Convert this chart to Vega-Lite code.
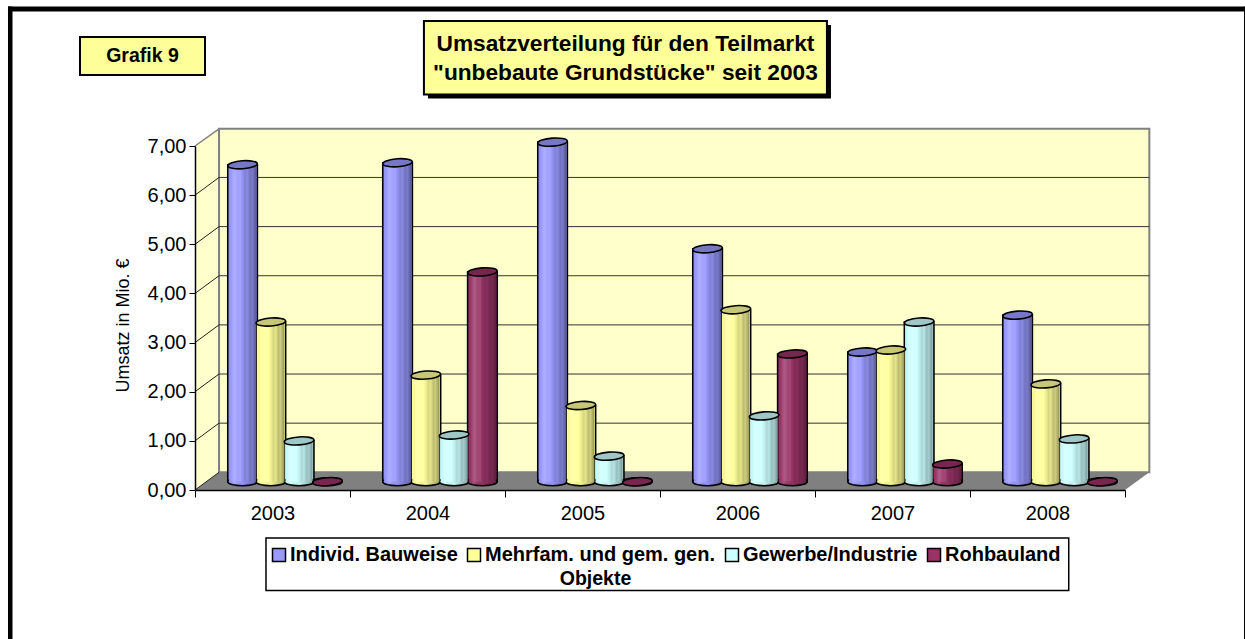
{
"$schema":"https://vega.github.io/schema/vega-lite/v6.json",
"width":930,"height":344,"autosize":"none",
"padding":{"left":195,"top":146,"right":120,"bottom":149},
"background":"white",
"config":{"view":{"stroke":null},"font":"Liberation Sans"},
"datasets":{
"rows":[
{"Jahr":"2003","Objekte":"Individ. Bauweise","Umsatz":6.45},
{"Jahr":"2003","Objekte":"Mehrfam. und gem. gen.","Umsatz":3.25},
{"Jahr":"2003","Objekte":"Gewerbe/Industrie","Umsatz":0.83},
{"Jahr":"2003","Objekte":"Rohbauland","Umsatz":0},
{"Jahr":"2004","Objekte":"Individ. Bauweise","Umsatz":6.49},
{"Jahr":"2004","Objekte":"Mehrfam. und gem. gen.","Umsatz":2.17},
{"Jahr":"2004","Objekte":"Gewerbe/Industrie","Umsatz":0.95},
{"Jahr":"2004","Objekte":"Rohbauland","Umsatz":4.27},
{"Jahr":"2005","Objekte":"Individ. Bauweise","Umsatz":6.91},
{"Jahr":"2005","Objekte":"Mehrfam. und gem. gen.","Umsatz":1.55},
{"Jahr":"2005","Objekte":"Gewerbe/Industrie","Umsatz":0.52},
{"Jahr":"2005","Objekte":"Rohbauland","Umsatz":0},
{"Jahr":"2006","Objekte":"Individ. Bauweise","Umsatz":4.74},
{"Jahr":"2006","Objekte":"Mehrfam. und gem. gen.","Umsatz":3.5},
{"Jahr":"2006","Objekte":"Gewerbe/Industrie","Umsatz":1.34},
{"Jahr":"2006","Objekte":"Rohbauland","Umsatz":2.6},
{"Jahr":"2007","Objekte":"Individ. Bauweise","Umsatz":2.64},
{"Jahr":"2007","Objekte":"Mehrfam. und gem. gen.","Umsatz":2.68},
{"Jahr":"2007","Objekte":"Gewerbe/Industrie","Umsatz":3.25},
{"Jahr":"2007","Objekte":"Rohbauland","Umsatz":0.36},
{"Jahr":"2008","Objekte":"Individ. Bauweise","Umsatz":3.39},
{"Jahr":"2008","Objekte":"Mehrfam. und gem. gen.","Umsatz":1.99},
{"Jahr":"2008","Objekte":"Gewerbe/Industrie","Umsatz":0.87},
{"Jahr":"2008","Objekte":"Rohbauland","Umsatz":0}
],
"levels":[{"level":0,"wall":0.36},{"level":1,"wall":1.36},{"level":2,"wall":2.36},{"level":3,"wall":3.36},{"level":4,"wall":4.36},{"level":5,"wall":5.36},{"level":6,"wall":6.36},{"level":7,"wall":7.35}]
},
"resolve":{"scale":{"x":"independent","y":"independent"},"axis":{"x":"independent","y":"independent"}},
"layer":[
{
"data":{"values":[{}]},
"encoding":{
"x":{"type":"quantitative","scale":{"domain":[0,6],"nice":false,"zero":false},"axis":null},
"y":{"type":"quantitative","scale":{"domain":[0,7],"nice":false,"zero":false},"axis":null}
},
"layer":[
{"mark":{"type":"rect","fill":"black"},"encoding":{"x":{"datum":-1.2065,"type":"quantitative"},"x2":{"datum":6.7742},"y":{"datum":9.839,"type":"quantitative"},"y2":{"datum":9.737}}},
{"mark":{"type":"rect","fill":"black"},"encoding":{"x":{"datum":-1.2065,"type":"quantitative"},"x2":{"datum":-1.1774},"y":{"datum":9.839,"type":"quantitative"},"y2":{"datum":-3.032}}},
{"mark":{"type":"rect","fill":"black"},"encoding":{"x":{"datum":6.7677,"type":"quantitative"},"x2":{"datum":6.7742},"y":{"datum":9.839,"type":"quantitative"},"y2":{"datum":-3.032}}},
{"mark":{"type":"rect","fill":"#FFFF99","stroke":"black","strokeWidth":2},"encoding":{"x":{"datum":-0.742,"type":"quantitative"},"x2":{"datum":0.0645},"y":{"datum":9.218,"type":"quantitative"},"y2":{"datum":8.445}}},
{"mark":{"type":"text","text":"Grafik 9","fontSize":19.5,"fontWeight":"bold","font":"Liberation Sans","fill":"black"},"encoding":{"x":{"datum":-0.339,"type":"quantitative"},"y":{"datum":8.832,"type":"quantitative"}}},
{"mark":{"type":"rect","fill":"black"},"encoding":{"x":{"datum":1.503,"type":"quantitative"},"x2":{"datum":4.103},"y":{"datum":9.463,"type":"quantitative"},"y2":{"datum":7.967}}},
{"mark":{"type":"rect","fill":"#FFFF99","stroke":"black","strokeWidth":2},"encoding":{"x":{"datum":1.477,"type":"quantitative"},"x2":{"datum":4.077},"y":{"datum":9.544,"type":"quantitative"},"y2":{"datum":8.048}}},
{"mark":{"type":"text","text":"Umsatzverteilung für den Teilmarkt","fontSize":22.7,"fontWeight":"bold","font":"Liberation Sans","fill":"black"},"encoding":{"x":{"datum":2.777,"type":"quantitative"},"y":{"datum":9.076,"type":"quantitative"}}},
{"mark":{"type":"text","text":"\"unbebaute Grundstücke\" seit 2003","fontSize":22.7,"fontWeight":"bold","font":"Liberation Sans","fill":"black"},"encoding":{"x":{"datum":2.777,"type":"quantitative"},"y":{"datum":8.486,"type":"quantitative"}}},
{"data":{"values":[{"t":0,"lo":0,"hi":7},{"t":0.155,"lo":0.36,"hi":7.35}]},"mark":{"type":"area","fill":"#FFFFCC","orient":"vertical"},"encoding":{"x":{"field":"t","type":"quantitative"},"y":{"field":"hi","type":"quantitative"},"y2":{"field":"lo"}}},
{"mark":{"type":"rect","fill":"#FFFFCC","stroke":"#808080","strokeWidth":2},"encoding":{"x":{"datum":0.155,"type":"quantitative"},"x2":{"datum":6.157},"y":{"datum":7.35,"type":"quantitative"},"y2":{"datum":0.36}}},
{"data":{"values":[{"t":0,"lo":0,"hi":0},{"t":0.155,"lo":0,"hi":0.36},{"t":6,"lo":0,"hi":0.36},{"t":6.157,"lo":0.36,"hi":0.36}]},"mark":{"type":"area","fill":"#808080","orient":"vertical"},"encoding":{"x":{"field":"t","type":"quantitative"},"y":{"field":"hi","type":"quantitative"},"y2":{"field":"lo"}}},
{"data":{"name":"levels"},"transform":[{"filter":"datum.level>0 && datum.level<7"}],"mark":{"type":"rule","stroke":"#333","strokeWidth":1},"encoding":{"x":{"datum":0.155,"type":"quantitative"},"x2":{"datum":6.157},"y":{"field":"wall","type":"quantitative"}}},
{"data":{"name":"levels"},"transform":[{"filter":"datum.level<7"}],"mark":{"type":"rule","stroke":"#222","strokeWidth":1},"encoding":{"x":{"datum":0,"type":"quantitative"},"x2":{"datum":0.155},"y":{"field":"level","type":"quantitative"},"y2":{"field":"wall"}}},
{"data":{"name":"levels"},"transform":[{"filter":"datum.level==7"}],"mark":{"type":"rule","stroke":"#808080","strokeWidth":1.5},"encoding":{"x":{"datum":0,"type":"quantitative"},"x2":{"datum":0.155},"y":{"field":"level","type":"quantitative"},"y2":{"field":"wall"}}},
{"mark":{"type":"rect","fill":"white","stroke":"black","strokeWidth":1.5},"encoding":{"x":{"datum":0.458,"type":"quantitative"},"x2":{"datum":5.637},"y":{"datum":-0.977,"type":"quantitative"},"y2":{"datum":-2.045}}}
]
},
{
"data":{"name":"rows"},
"encoding":{
"x":{"field":"Jahr","type":"nominal","scale":{"type":"band","domain":["2003","2004","2005","2006","2007","2008"],"range":[12.5,942.5],"paddingInner":0.27,"paddingOuter":0.135},"axis":null},
"xOffset":{"field":"Objekte","type":"nominal","scale":{"domain":["Individ. Bauweise","Mehrfam. und gem. gen.","Gewerbe/Industrie","Rohbauland"]}},
"y":{"field":"Umsatz","type":"quantitative","scale":{"domain":[0,7],"range":[335.7,-8.3],"nice":false,"zero":false},"axis":null},
"color":{"field":"Objekte","type":"nominal","sort":["Individ. Bauweise","Mehrfam. und gem. gen.","Gewerbe/Industrie","Rohbauland"],"scale":{"domain":["Individ. Bauweise","Mehrfam. und gem. gen.","Gewerbe/Industrie","Rohbauland"],"range":["#9999FF","#FFFF99","#CCFFFF","#993366"]},
"legend":{"orient":"none","legendX":74,"legendY":399,"direction":"horizontal","columns":4,"title":null,"padding":0,"labelFont":"Liberation Sans","labelFontSize":20,"labelFontWeight":"bold","labelColor":"black","symbolType":"square","symbolSize":169,"symbolStrokeColor":"black","symbolStrokeWidth":1.5,"columnPadding":6,"labelOffset":1,"labelLimit":300}}
},
"layer":[
{"mark":{"type":"bar","width":29.6,"stroke":"black","strokeWidth":1.6}},
{"mark":{"type":"point","shape":"M-1,0 C-1,-.15 -.55,-.27 0,-.27 C.55,-.27 1,-.15 1,0 C1,.15 .55,.27 0,.27 C-.55,.27 -1,.15 -1,0 Z","size":876,"filled":true,"opacity":1,"stroke":"black","strokeWidth":1.6},"encoding":{"y":{"datum":0,"type":"quantitative"},"color":{"field":"Objekte","type":"nominal","legend":null}}},
{"mark":{"type":"point","shape":"M-1,0 C-1,-.15 -.55,-.27 0,-.27 C.55,-.27 1,-.15 1,0 C1,.15 .55,.27 0,.27 C-.55,.27 -1,.15 -1,0 Z","size":876,"filled":true,"opacity":1,"stroke":null,"color":{"gradient":"linear","x1":0,"x2":1,"y1":0,"y2":0,"stops":[{"offset":0,"color":"rgba(0,0,0,0.08)"},{"offset":0.2,"color":"rgba(255,255,255,0.12)"},{"offset":0.5,"color":"rgba(0,0,0,0.05)"},{"offset":0.7,"color":"rgba(0,0,0,0.18)"},{"offset":1,"color":"rgba(0,0,0,0.42)"}]}},"encoding":{"y":{"datum":0,"type":"quantitative"},"color":null}},
{"mark":{"type":"bar","width":27}},
{"mark":{"type":"bar","width":27,"color":{"gradient":"linear","x1":0,"x2":1,"y1":0,"y2":0,"stops":[{"offset":0,"color":"rgba(0,0,0,0.02)"},{"offset":0.12,"color":"rgba(255,255,255,0.1)"},{"offset":0.2,"color":"rgba(255,255,255,0.2)"},{"offset":0.34,"color":"rgba(255,255,255,0.08)"},{"offset":0.42,"color":"rgba(255,255,255,0.1)"},{"offset":0.5,"color":"rgba(0,0,0,0.05)"},{"offset":0.6,"color":"rgba(0,0,0,0.16)"},{"offset":0.68,"color":"rgba(0,0,0,0.1)"},{"offset":0.78,"color":"rgba(0,0,0,0.26)"},{"offset":0.86,"color":"rgba(0,0,0,0.2)"},{"offset":1,"color":"rgba(0,0,0,0.42)"}]}},"encoding":{"color":null}},
{"mark":{"type":"point","shape":"M-1,0 C-1,-.15 -.55,-.27 0,-.27 C.55,-.27 1,-.15 1,0 C1,.15 .55,.27 0,.27 C-.55,.27 -1,.15 -1,0 Z","size":876,"angle":-4,"filled":true,"opacity":1,"stroke":"black","strokeWidth":1.6},"encoding":{"color":{"field":"Objekte","type":"nominal","legend":null}}},
{"mark":{"type":"point","shape":"M-1,0 C-1,-.15 -.55,-.27 0,-.27 C.55,-.27 1,-.15 1,0 C1,.15 .55,.27 0,.27 C-.55,.27 -1,.15 -1,0 Z","size":876,"angle":-4,"filled":true,"opacity":1,"stroke":null,"color":"rgba(0,0,0,0.22)"},"encoding":{"color":null}}
]
},
{
"data":{"name":"rows"},
"mark":{"type":"point","opacity":0},
"encoding":{
"x":{"field":"Jahr","type":"nominal","scale":{"type":"band","domain":["2003","2004","2005","2006","2007","2008"],"paddingInner":0,"paddingOuter":0},
"axis":{"orient":"bottom","zindex":1,"title":"Objekte","titleFont":"Liberation Sans","titleFontSize":19.5,"titleFontWeight":"bold","titleColor":"black","titleX":400,"titleY":88,"titleBaseline":"middle","titleAnchor":null,"labelAngle":0,"labelFont":"Liberation Sans","labelFontSize":20,"labelColor":"black","labelPadding":6,"tickBand":"extent","tickSize":7,"tickColor":"black","tickWidth":1,"domainColor":"black","domainWidth":1.5,"grid":false}},
"y":{"field":"Umsatz","type":"quantitative","scale":{"domain":[0,7],"nice":false,"zero":false},
"axis":{"orient":"left","zindex":1,"values":[0,1,2,3,4,5,6,7],"labelExpr":"replace(format(datum.value,'.2f'),'.',',')","title":"Umsatz in Mio. €","titleFont":"Liberation Sans","titleFontSize":18,"titleFontWeight":"normal","titleColor":"black","titleX":-72,"titleY":179,"titleBaseline":"middle","labelFont":"Liberation Sans","labelFontSize":20,"labelColor":"black","labelPadding":3,"tickSize":6,"tickColor":"black","tickWidth":1,"domainColor":"black","domainWidth":1.5,"grid":false}}
}
}
]
}
